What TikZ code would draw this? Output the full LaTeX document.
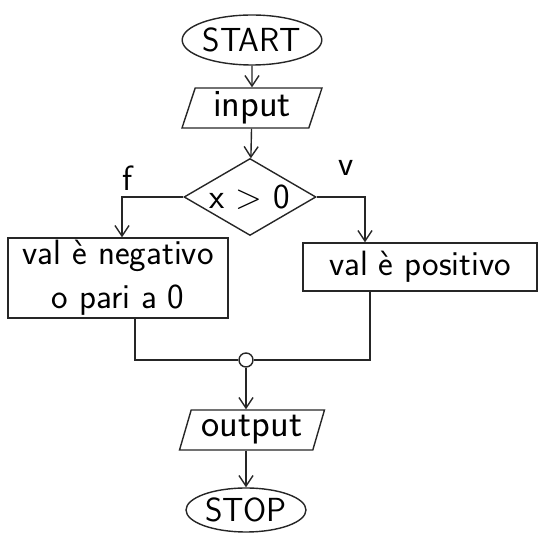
\documentclass[tikz,border=0pt]{standalone}
\usepackage{fontspec}
\usetikzlibrary{shapes.geometric,arrows.meta,calc}
\begin{document}
\begin{tikzpicture}[x=0.02cm,y=-0.02cm,
  every node/.style={font=\sffamily},
  ink/.style={draw=black!85,line width=0.8pt},
  flow/.style={ink,-{Straight Barb[length=6pt,width=8pt]}},
  term/.style={ellipse,ink,inner sep=0pt,font=\sffamily\fontsize{19}{22}\selectfont},
  io/.style={trapezium,trapezium left angle=68,trapezium right angle=112,
    trapezium stretches body,ink,inner sep=0pt,font=\sffamily\fontsize{22}{24}\selectfont},
  test/.style={diamond,shape aspect=1.7,ink,inner sep=0pt,font=\sffamily\fontsize{20}{22}\selectfont},
  proc/.style={rectangle,ink,inner sep=0pt,align=center,font=\sffamily\fontsize{20}{25}\selectfont},
  branch/.style={font=\sffamily\fontsize{20}{22}\selectfont}]
\useasboundingbox (0,0) rectangle (539,533);

% terminals, input/output and decision
\node[term,minimum width=2.74cm,minimum height=1.0cm] (start) at (252,40) {START};
\node[io,minimum width=2.8cm,minimum height=0.8cm] (in) at (252,108) {input};
\node[test,minimum width=2.64cm,minimum height=1.54cm] (dec) at (250,197) {x > 0};
\node[branch] (lf) at (128,178) {f};
\node[branch] (lv) at (346,168) {v};

% branch boxes
\node[proc,minimum width=4.4cm,minimum height=1.6cm] (neg) at (118,278)
  {val è negativo\\o pari a 0};
\node[proc,minimum width=4.68cm,minimum height=0.96cm] (pos) at (420,267)
  {val è positivo};

% merge point and end
\node[circle,ink,inner sep=0pt,minimum size=0.28cm] (join) at (246,360) {};
\node[io,minimum width=2.9cm,minimum height=0.8cm] (out) at (252,430) {output};
\node[term,minimum width=2.4cm,minimum height=0.88cm] (stop) at (246,510) {STOP};

% connectors
\coordinate (negin) at ($(neg.north)+(4,0)$);
\coordinate (posin) at ($(pos.north)+(-55,0)$);
\coordinate (negout) at ($(neg.south)+(17,0)$);
\coordinate (posout) at ($(pos.south)+(-50,0)$);

\draw[flow] (start) -- (in);
\draw[flow] (in) -- (dec);
\draw[flow] (dec.west) -| (negin);
\draw[flow] (dec.east) -| (posin);
\draw[ink] (negout) |- (join.west);
\draw[ink] (posout) |- (join.east);
\draw[flow] (join) -- (join |- out.north);
\draw[flow] (out.south -| stop) -- (stop);
\end{tikzpicture}
\end{document}
